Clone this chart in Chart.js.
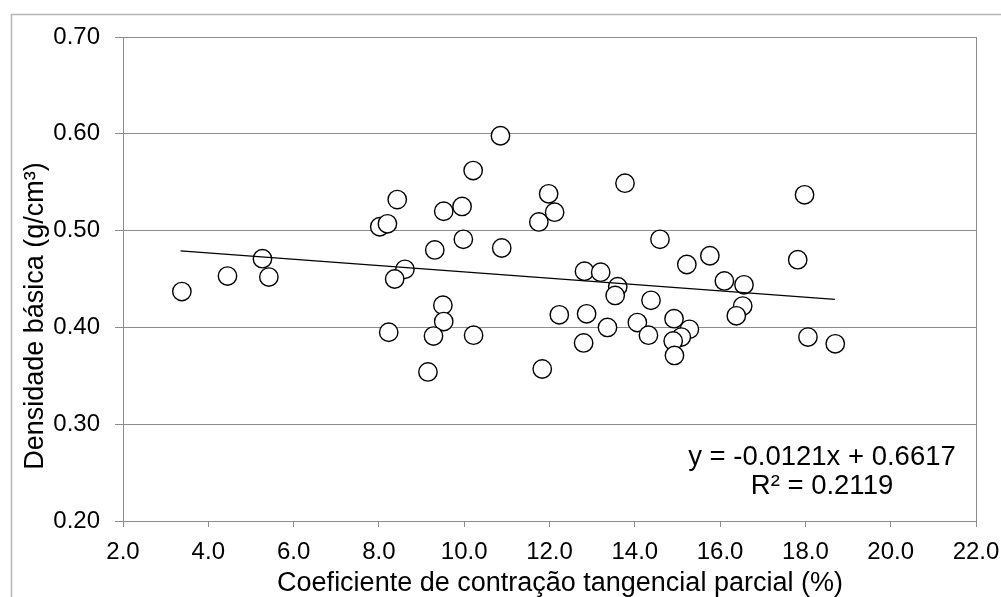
<!DOCTYPE html>
<html>
<head>
<meta charset="utf-8">
<script src="https://cdn.jsdelivr.net/npm/chart.js@4.4.1/dist/chart.umd.min.js"></script>
<style>
  html, body { margin: 0; padding: 0; background: #fff; }
  #wrap { width: 1001px; height: 597px; position: relative; }
</style>
</head>
<body>
<div id="wrap"><canvas id="chart"></canvas></div>
<script>
// 수축률 vs 기본밀도 산점도

const contracao = [
    3.38, 4.45, 5.27, 5.42, 8.02, 8.20, 8.43, 8.61, 8.37, 9.52,
    9.95, 10.21, 9.31, 9.98, 10.88, 11.75, 9.50, 9.52, 9.28, 8.23,
    10.22, 9.15, 11.83, 13.77, 11.98, 12.12, 17.98, 14.59, 15.22, 15.76,
    17.82, 12.82, 13.20, 13.60, 13.54, 16.10, 16.56, 16.53, 16.38, 14.38,
    12.23, 12.87, 13.36, 14.06, 14.32, 14.92, 15.28, 15.09, 14.90, 14.93,
    12.80, 18.06, 18.70, 10.85
];
const densidade = [
    0.437, 0.453, 0.471, 0.452, 0.504, 0.507, 0.532, 0.460, 0.450, 0.520,
    0.525, 0.562, 0.480, 0.491, 0.482, 0.509, 0.423, 0.406, 0.391, 0.395,
    0.392, 0.354, 0.357, 0.549, 0.538, 0.519, 0.537, 0.491, 0.465, 0.474,
    0.470, 0.458, 0.457, 0.442, 0.433, 0.448, 0.444, 0.422, 0.412, 0.428,
    0.413, 0.414, 0.400, 0.405, 0.392, 0.409, 0.398, 0.390, 0.386, 0.371,
    0.384, 0.390, 0.383, 0.598
];

// 추세선 양 끝점
const trendX = [3.35, 18.69];
const trendY = [0.479, 0.429];

const xTitle = 'Coeficiente de contração tangencial parcial (%)';
const yTitle = 'Densidade básica (g/cm³)';
const eqLines = ['y = -0.0121x + 0.6617', 'R² = 0.2119'];

const FONT = "'Liberation Sans', Arial, sans-serif";

const decorPlugin = {
    id: 'decor',
    beforeDraw(chart) {
        const ctx = chart.ctx;
        ctx.save();
        ctx.fillStyle = '#fff';
        ctx.fillRect(0, 0, chart.width, chart.height);
        // 바깥 테두리
        ctx.strokeStyle = '#b4b4b4';
        ctx.lineWidth = 1.5;
        ctx.strokeRect(11.5, 14.5, 1200, 800);
        ctx.restore();
    },
    afterDraw(chart) {
        const ctx = chart.ctx;
        const a = chart.chartArea;
        ctx.save();
        // 플롯 영역 오른쪽 선
        ctx.strokeStyle = '#8c8c8c';
        ctx.lineWidth = 1;
        ctx.beginPath();
        ctx.moveTo(Math.round(a.right) + 0.5, a.top);
        ctx.lineTo(Math.round(a.right) + 0.5, a.bottom);
        ctx.stroke();

        ctx.fillStyle = '#000';
        // x축 제목
        ctx.font = '27px ' + FONT;
        ctx.textAlign = 'center';
        ctx.textBaseline = 'alphabetic';
        ctx.fillText(xTitle, 560, 591);

        // y축 제목
        ctx.save();
        ctx.translate(43, 316);
        ctx.rotate(-Math.PI / 2);
        ctx.fillText(yTitle, 0, 0);
        ctx.restore();

        // 회귀식
        ctx.font = '27.5px ' + FONT;
        ctx.fillText(eqLines[0], 822, 465);
        ctx.fillText(eqLines[1], 822, 494);
        ctx.restore();
    }
};

const ctx = document.getElementById('chart').getContext('2d');
new Chart(ctx, {
    type: 'scatter',
    data: {
        datasets: [
            {
                label: 'trend',
                data: trendX.map((x, i) => ({ x: x, y: trendY[i] })),
                showLine: true,
                borderColor: '#000',
                borderWidth: 1.2,
                pointRadius: 0,
                fill: false
            },
            {
                label: 'dados',
                data: contracao.map((x, i) => ({ x: x, y: densidade[i] })),
                pointRadius: 9.2,
                pointBackgroundColor: '#fff',
                pointBorderColor: '#000',
                pointBorderWidth: 1.4
            }
        ]
    },
    options: {
        responsive: true,
        maintainAspectRatio: false,
        animation: false,
        layout: { padding: { left: 0, top: 37, right: 25, bottom: 0 } },
        plugins: {
            legend: { display: false },
            tooltip: { enabled: false }
        },
        scales: {
            x: {
                type: 'linear',
                min: 2,
                max: 22,
                afterFit: (scale) => {
                    scale.height = 76;
                    scale.paddingLeft = 0;
                    scale.paddingRight = 0;
                },
                ticks: {
                    stepSize: 2,
                    color: '#000',
                    padding: 11,
                    font: { family: FONT, size: 24 },
                    callback: (v) => Number(v).toFixed(1)
                },
                grid: {
                    drawOnChartArea: false,
                    drawTicks: true,
                    tickLength: 6,
                    color: '#8c8c8c'
                },
                border: { display: true, color: '#8c8c8c' }
            },
            y: {
                type: 'linear',
                min: 0.2,
                max: 0.7,
                afterFit: (scale) => {
                    scale.width = 123;
                    scale.paddingTop = 0;
                    scale.paddingBottom = 0;
                },
                ticks: {
                    stepSize: 0.1,
                    color: '#000',
                    padding: 15,
                    font: { family: FONT, size: 24 },
                    callback: (v) => Number(v).toFixed(2)
                },
                grid: {
                    color: '#8c8c8c',
                    tickLength: 8
                },
                border: { display: true, color: '#8c8c8c' }
            }
        }
    },
    plugins: [decorPlugin]
});
</script>
</body>
</html>
